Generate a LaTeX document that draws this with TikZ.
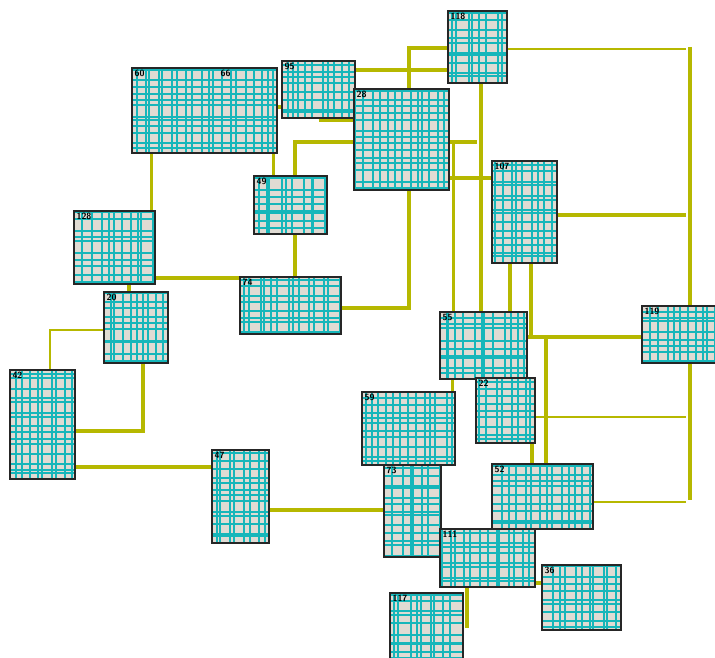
\documentclass[tikz,border=0pt]{standalone}
\usetikzlibrary{backgrounds}

\definecolor{cellfill}{RGB}{224,219,211}
\definecolor{cellgrid}{RGB}{22,182,186}
\definecolor{wireolive}{RGB}{182,184,0}

\begin{document}
\begin{tikzpicture}[x=1pt, y=-1pt, line join=miter]

% --- Global TikZ Styles ---
\tikzset{
    cell/.style 2 args={
        draw=black!85,
        line width=1.3pt,
        fill=cellfill,
        minimum width=#1pt,
        minimum height=#2pt,
        inner sep=0pt,
        path picture={
            \pgfmathtruncatemacro\nv{max(1,round(#1/7.2))}
            \pgfmathtruncatemacro\nh{max(1,round(#2/7.2))}
            \foreach \k in {1,...,\nv} {
                \pgfmathsetmacro\px{(\k-0.5+0.9*(rnd-0.5))*#1/\nv}
                \draw[cellgrid, line width=2pt]
                    ([xshift=\px pt]path picture bounding box.north west) --
                    ([xshift=\px pt]path picture bounding box.south west);
            }
            \foreach \k in {1,...,\nh} {
                \pgfmathsetmacro\py{(\k-0.5+0.9*(rnd-0.5))*#2/\nh}
                \draw[cellgrid, line width=2pt]
                    ([yshift=-\py pt]path picture bounding box.north west) --
                    ([yshift=-\py pt]path picture bounding box.north east);
            }
        }
    },
    cellnum/.style={
        anchor=north west,
        inner sep=3pt,
        font=\sffamily\bfseries\fontsize{9}{9}\selectfont
    },
    wire/.style={
        draw=wireolive,
        line width=3.3pt
    },
    thinwire/.style={
        draw=wireolive,
        line width=2pt
    }
}

\pgfmathsetseed{11}
\useasboundingbox (0,0) rectangle (715,658);

% =========================================================================
% --- Cells ---
% =========================================================================
\node[cell={145}{85}, label={[cellnum]north west:60}, label={[cellnum, xshift=13pt]north:66}] (c60) at (204.5,110.5) {};
\node[cell={73}{57},  label={[cellnum]north west:95}]  (c95)  at (318.5,89.5) {};
\node[cell={95}{101}, label={[cellnum]north west:28}]  (c28)  at (401.5,139.5) {};
\node[cell={59}{72},  label={[cellnum]north west:118}] (c118) at (477.5,47) {};
\node[cell={65}{102}, label={[cellnum]north west:107}] (c107) at (524.5,212) {};
\node[cell={73}{58},  label={[cellnum]north west:49}]  (c49)  at (290.5,205) {};
\node[cell={101}{57}, label={[cellnum]north west:74}]  (c74)  at (290.5,305.5) {};
\node[cell={81}{73},  label={[cellnum]north west:128}] (c128) at (114.5,247.5) {};
\node[cell={64}{71},  label={[cellnum]north west:20}]  (c20)  at (136,327.5) {};
\node[cell={65}{109}, label={[cellnum]north west:42}]  (c42)  at (42.5,424.5) {};
\node[cell={57}{93},  label={[cellnum]north west:47}]  (c47)  at (240.5,496.5) {};
\node[cell={93}{73},  label={[cellnum]north west:59}]  (c59)  at (408.5,428.5) {};
\node[cell={57}{92},  label={[cellnum]north west:73}]  (c73)  at (412.5,511) {};
\node[cell={101}{65}, label={[cellnum]north west:52}]  (c52)  at (542.5,496.5) {};
\node[cell={95}{58},  label={[cellnum]north west:111}] (c111) at (487.5,558) {};
\node[cell={79}{65},  label={[cellnum]north west:36}]  (c36)  at (581.5,597.5) {};
\node[cell={73}{72},  label={[cellnum]north west:117}] (c117) at (426.5,629) {};
\node[cell={87}{67},  label={[cellnum]north west:55}]  (c55)  at (483.5,345.5) {};
\node[cell={59}{65},  label={[cellnum]north west:22}]  (c22)  at (505.5,410.5) {};
\node[cell={78}{57},  label={[cellnum]north west:119}] (c119) at (681,334.5) {};

% --- Free ends ---
\coordinate (bustop) at (690,47);
\coordinate (busbot) at (690,500);
\coordinate (stub) at (477,142);
\coordinate (tail) at (467,628);

% =========================================================================
% --- Connectors (behind the cells) ---
% =========================================================================
\begin{scope}[on background layer]

    % --- Right bus ---
    \draw[wire] (bustop) -- (busbot);
    \draw[thinwire, shorten >=4pt] ([yshift=-2pt]c118.east) -- ([yshift=-2pt]c118.east -| bustop);
    \draw[wire, shorten >=4pt] ([yshift=-3pt]c107.east) -- ([yshift=-3pt]c107.east -| bustop);
    \draw[thinwire, shorten >=4pt] ([yshift=-6.5pt]c22.east) -- ([yshift=-6.5pt]c22.east -| bustop);
    \draw[thinwire, shorten >=4pt] ([yshift=-5.5pt]c52.east) -- ([yshift=-5.5pt]c52.east -| busbot);

    % --- Top group ---
    \draw[wire] ([xshift=20pt]c60.south west) -- ([xshift=20pt]c60.south west |- c128.north);
    \draw[wire] ([xshift=-4pt]c60.south east) -- ([xshift=-4pt]c60.south east |- c49.north);
    \draw[wire] ([yshift=3.5pt]c60.east) -- ([yshift=3.5pt]c60.east -| c95.west);
    \draw[wire] ([yshift=-2pt]c95.south) -- ([yshift=-2pt]c95.south -| c28.west);
    \draw[wire] ([yshift=19.5pt]c95.east) -- ([yshift=19.5pt]c95.east -| c118.west);
    \draw[wire] ([yshift=-1pt]c118.west) -| ([xshift=7.5pt]c28.north);
    \draw[wire] ([xshift=7.5pt]c28.south) |- ([yshift=-2.5pt]c74.east);
    \draw[wire] ([xshift=4.5pt]c49.north) |- ([yshift=-2.5pt]c28.west);
    \draw[wire] ([xshift=4.5pt]c49.south) -- ([xshift=4.5pt]c74.north);

    % --- Left group ---
    \draw[wire] ([yshift=-30.5pt]c128.east) -- ([yshift=-30.5pt]c128.east -| c74.west);
    \draw[wire] ([xshift=14.5pt]c128.south) -- ([xshift=14.5pt]c128.south |- c20.north);
    \draw[thinwire] ([yshift=-2.5pt]c20.west) -| ([xshift=7.5pt]c42.north);
    \draw[wire] ([xshift=7pt]c20.south) |- ([yshift=-6.5pt]c42.east);
    \draw[wire] ([yshift=-42.5pt]c42.east) -- ([yshift=-42.5pt]c42.east -| c47.west);
    \draw[wire] ([yshift=-13.5pt]c47.east) -- ([yshift=-13.5pt]c47.east -| c73.west);

    % --- Middle group ---
    \draw[wire] ([yshift=-38.5pt]c28.east) -- ([yshift=-38.5pt]c28.east -| c107.west);
    \draw[wire] ([yshift=-2.5pt]c28.east) -- (stub);
    \draw[wire] ([xshift=14pt]c55.north west) |- ([yshift=-2.5pt]c28.east);
    \draw[wire] ([xshift=3.5pt]c118.south) -- ([xshift=3.5pt]c118.south |- c55.north);
    \draw[wire] ([xshift=-14.5pt]c107.south) -- ([xshift=-14.5pt]c107.south |- c55.north);
    \draw[wire] ([xshift=6.5pt]c107.south) -- ([xshift=6.5pt]c107.south |- c119.west);
    \draw[wire] ([yshift=8.5pt]c55.east) -- ([yshift=8.5pt]c55.east -| c119.west);
    \draw[wire] ([xshift=3.5pt]c52.north) -- ([xshift=3.5pt]c52.north |- c119.west);
    \draw[wire] ([xshift=26.5pt]c22.south) -- ([xshift=26.5pt]c22.south |- c52.north);
    \draw[wire] ([xshift=13pt]c55.south west) -- ([xshift=13pt]c55.south west |- c59.north);

    % --- Bottom group ---
    \draw[wire] ([yshift=-25pt]c111.east) -- ([yshift=-25pt]c111.east -| c36.west);
    \draw[wire] ([xshift=-20.5pt]c111.south) -- (tail);

\end{scope}

\end{tikzpicture}
\end{document}
